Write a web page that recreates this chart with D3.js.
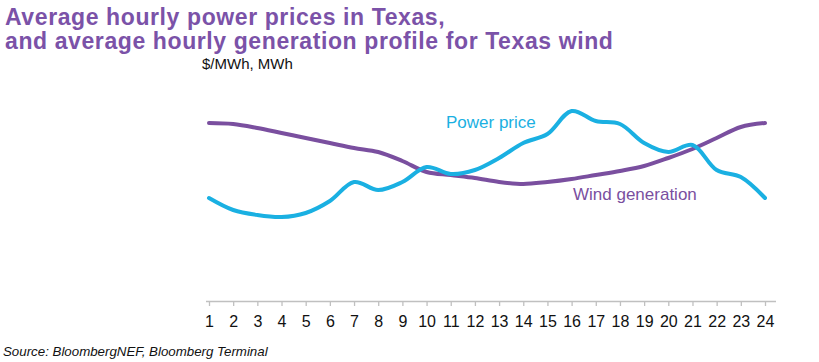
<!DOCTYPE html>
<html><head><meta charset="utf-8">
<script src="https://cdn.jsdelivr.net/npm/d3@7/dist/d3.min.js"></script>
<style>
html,body{margin:0;padding:0;background:#fff;}
svg{display:block;font-family:"Liberation Sans",Arial,sans-serif;}
</style></head><body>
<svg id="c" width="819" height="362"></svg>
<script>
const hours = d3.range(1, 25);
const tickLabels = hours.map(String);
// values (arbitrary index units)
const powerPrice = [51.5, 45.5, 43, 42, 44, 50, 59.5, 55.5, 59.5, 67, 63.5, 65.5, 71.5, 79, 83.5, 95, 90, 88.5, 79, 74.5, 78, 65.5, 62, 51.5];
const windGeneration = [89, 88.5, 86.5, 84, 81.5, 79, 76.5, 74.5, 70, 64.5, 63, 61.5, 59.5, 58.5, 59.5, 61, 63, 65, 67.5, 71.5, 76, 81.5, 87, 89];
const seriesNames = ["Power price", "Wind generation"];
const titleLines = ["Average hourly power prices in Texas,", "and average hourly generation profile for Texas wind"];
const unitLabel = "$/MWh, MWh";
const sourceText = "Source: BloombergNEF, Bloomberg Terminal";

const purple = "#7a4f9f", cyan = "#1ab0e2", titlePurple = "#7b52a8";
const svg = d3.select("#c");

const x = d3.scaleLinear().domain([1, 24]).range([209, 765]);
const y = d3.scaleLinear().domain([0, 100]).range([301, 101]);

// title
svg.selectAll("text.title").data(titleLines).join("text")
  .attr("class", "title")
  .attr("x", 5).attr("y", (d, i) => 25 + i * 23.5)
  .attr("fill", titlePurple).attr("font-weight", "bold").attr("font-size", 23)
  .attr("letter-spacing", 0.6)
  .text(d => d);

svg.append("text").attr("x", 202).attr("y", 69).attr("font-size", 15).attr("fill", "#111").text(unitLabel);

// axis
const axis = d3.axisBottom(x).tickValues(hours).tickFormat((d, i) => tickLabels[i]).tickSizeOuter(0).tickSize(5);
const gx = svg.append("g").attr("transform", `translate(0,${y(0)})`).call(axis);
gx.select(".domain").attr("d", `M${x(1) - 3},0.5H${x(24) + 11}`).attr("stroke", "#c0c0c0").attr("stroke-width", 1.5);
gx.selectAll(".tick line").attr("stroke", "#c0c0c0").attr("stroke-width", 1.3);
gx.selectAll(".tick text").attr("font-size", 16).attr("fill", "#111").attr("y", 15)
  .attr("font-family", "'Liberation Sans', Arial, sans-serif");

// lines
const line = d3.line().x((d, i) => x(hours[i])).y(d => y(d)).curve(d3.curveCatmullRom.alpha(0.5));
svg.append("path").datum(windGeneration).attr("d", line).attr("fill", "none").attr("stroke", purple).attr("stroke-width", 4).attr("stroke-linecap", "round");
svg.append("path").datum(powerPrice).attr("d", line).attr("fill", "none").attr("stroke", cyan).attr("stroke-width", 4).attr("stroke-linecap", "round");

// series labels
svg.append("text").attr("x", 446).attr("y", 128).attr("font-size", 17).attr("fill", cyan).text(seriesNames[0]);
svg.append("text").attr("x", 573).attr("y", 200).attr("font-size", 17).attr("fill", purple).text(seriesNames[1]);

// source
svg.append("text").attr("x", 3).attr("y", 356).attr("font-size", 13.3).attr("font-style", "italic").attr("fill", "#111").text(sourceText);
</script>
</body></html>
